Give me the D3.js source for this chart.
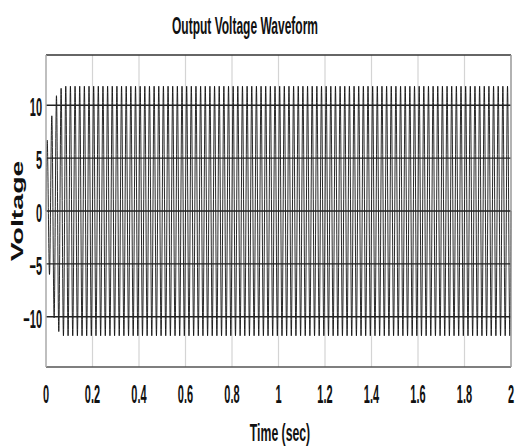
<!DOCTYPE html>
<html><head><meta charset="utf-8">
<script src="https://cdn.jsdelivr.net/npm/d3@7"></script>
<style>body{margin:0;background:#fff}svg{display:block}</style>
</head><body>
<script>
// ---- data ----
const title = "Output Voltage Waveform";
const xLabel = "Time (sec)";
const yLabel = "Voltage";
const xTicks = [0, 0.2, 0.4, 0.6, 0.8, 1, 1.2, 1.4, 1.6, 1.8, 2];
const yTicks = [-10, -5, 0, 5, 10];
const freqHz = 50; // one positive and one negative peak per cycle
// positive peak value of each cycle, 100 cycles
const posPeaks = [6.7, 9.0, 10.9, 11.6,
  11.8,11.8,11.8,11.8,11.8,11.8,11.8,11.8,11.8,11.8,11.8,11.8,
  11.8,11.8,11.8,11.8,11.8,11.8,11.8,11.8,11.8,11.8,11.8,11.8,
  11.8,11.8,11.8,11.8,11.8,11.8,11.8,11.8,11.8,11.8,11.8,11.8,
  11.8,11.8,11.8,11.8,11.8,11.8,11.8,11.8,11.8,11.8,11.8,11.8,
  11.8,11.8,11.8,11.8,11.8,11.8,11.8,11.8,11.8,11.8,11.8,11.8,
  11.8,11.8,11.8,11.8,11.8,11.8,11.8,11.8,11.8,11.8,11.8,11.8,
  11.8,11.8,11.8,11.8,11.8,11.8,11.8,11.8,11.8,11.8,11.8,11.8,
  11.8,11.8,11.8,11.8,11.8,11.8,11.8,11.8,11.8,11.8,11.8,11.8];
// negative peak value of each cycle
const negPeaks = [-6.0, -10.1, -11.4, -11.8,
  -11.8,-11.8,-11.8,-11.8,-11.8,-11.8,-11.8,-11.8,-11.8,-11.8,-11.8,-11.8,
  -11.8,-11.8,-11.8,-11.8,-11.8,-11.8,-11.8,-11.8,-11.8,-11.8,-11.8,-11.8,
  -11.8,-11.8,-11.8,-11.8,-11.8,-11.8,-11.8,-11.8,-11.8,-11.8,-11.8,-11.8,
  -11.8,-11.8,-11.8,-11.8,-11.8,-11.8,-11.8,-11.8,-11.8,-11.8,-11.8,-11.8,
  -11.8,-11.8,-11.8,-11.8,-11.8,-11.8,-11.8,-11.8,-11.8,-11.8,-11.8,-11.8,
  -11.8,-11.8,-11.8,-11.8,-11.8,-11.8,-11.8,-11.8,-11.8,-11.8,-11.8,-11.8,
  -11.8,-11.8,-11.8,-11.8,-11.8,-11.8,-11.8,-11.8,-11.8,-11.8,-11.8,-11.8,
  -11.8,-11.8,-11.8,-11.8,-11.8,-11.8,-11.8,-11.8,-11.8,-11.8,-11.8,-11.8];

// ---- layout ----
const W = 515, H = 448;
const L = 46, R = 511, T = 55, B = 367;
const font = "'Liberation Sans',Arial,sans-serif";

const svg = d3.select("body").append("svg").attr("width", W).attr("height", H);
const x = d3.scaleLinear().domain([0, 2]).range([L, R]);
const y = d3.scaleLinear().domain([-14.75, 14.75]).range([B, T]);

// build waveform points from the peak lists
const period = 1 / freqHz;
const pts = [[0, 0]];
posPeaks.forEach((p, i) => {
  pts.push([i * period + period / 4, p]);
  pts.push([i * period + 3 * period / 4, negPeaks[i]]);
});
pts.push([2, 0]);

// vertical grid
svg.append("g").selectAll("line").data(xTicks.slice(1, -1)).join("line")
  .attr("x1", d => x(d)).attr("x2", d => x(d)).attr("y1", T).attr("y2", B)
  .attr("stroke", "#d4d4d4").attr("stroke-width", 1.2);

// waveform
const line = d3.line().x(d => x(d[0])).y(d => y(d[1])).curve(d3.curveMonotoneX);
svg.append("path").datum(pts).attr("d", line)
  .attr("fill", "none").attr("stroke", "#111").attr("stroke-width", 0.9);

// horizontal grid (dark)
svg.append("g").selectAll("line").data(yTicks).join("line")
  .attr("x1", L).attr("x2", R).attr("y1", d => y(d)).attr("y2", d => y(d))
  .attr("stroke", "#222").attr("stroke-width", 1.3);

// frame
svg.append("line").attr("x1", L).attr("x2", R).attr("y1", T).attr("y2", T).attr("stroke", "#333").attr("stroke-width", 1.5);
svg.append("line").attr("x1", L).attr("x2", R).attr("y1", B).attr("y2", B).attr("stroke", "#555").attr("stroke-width", 1.5);
svg.append("line").attr("x1", L).attr("x2", L).attr("y1", T).attr("y2", B).attr("stroke", "#aaa").attr("stroke-width", 1.5);
svg.append("line").attr("x1", R).attr("x2", R).attr("y1", T).attr("y2", B).attr("stroke", "#999").attr("stroke-width", 1.5);

function cText(tx, ty, str, size, sx, anchor) {
  return svg.append("text")
    .attr("transform", `translate(${tx},${ty}) scale(${sx},1)`)
    .attr("text-anchor", anchor)
    .attr("font-family", font).attr("font-weight", "bold")
    .attr("font-size", size).attr("fill", "#111").text(str);
}

// x tick labels
xTicks.forEach(d => cText(x(d), 403, d3.format("~g")(d), 25, 0.44, "middle"));
// y tick labels
yTicks.forEach(d => cText(42, y(d) + 11, d3.format("~g")(d), 25, 0.44, "end"));

// title & x label
cText(245, 34, title, 24, 0.5, "middle");
cText(280, 441, xLabel, 24, 0.51, "middle");

// y label
svg.append("text")
  .attr("transform", `translate(23,211) rotate(-90) scale(1.78,1)`)
  .attr("text-anchor", "middle")
  .attr("font-family", font).attr("font-weight", "bold")
  .attr("font-size", 16).attr("fill", "#111").text(yLabel);
</script>
</body></html>
